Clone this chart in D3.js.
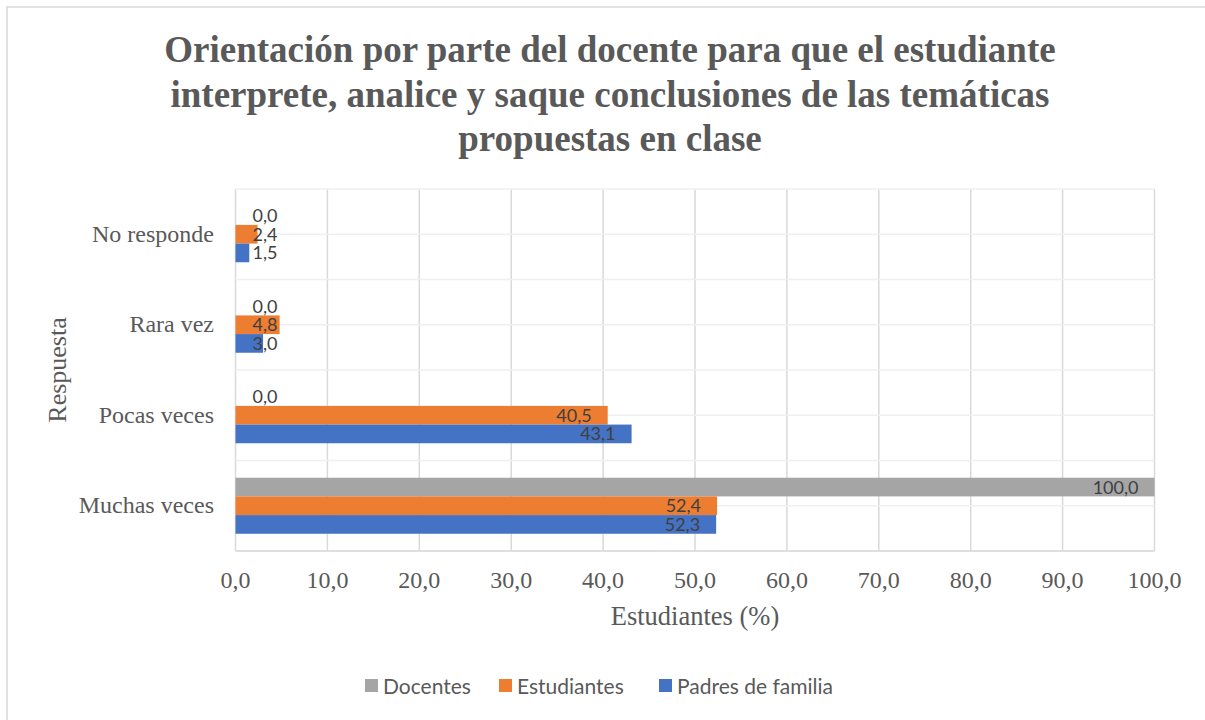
<!DOCTYPE html>
<html>
<head>
<meta charset="UTF-8" />
<title>Orientación por parte del docente</title>
<script src="https://cdn.jsdelivr.net/npm/d3@7/dist/d3.min.js"></script>
<style>
    body { margin: 0; background: #fff; }
    svg { display: block; }
</style>
</head>
<body>
<div id="chart"></div>
<script>
    // data (bottom category first, like Excel)
    var categories = ["Muchas veces", "Pocas veces", "Rara vez", "No responde"];
    var seriesNames = ["Docentes", "Estudiantes", "Padres de familia"];
    var docentes = [100.0, 0.0, 0.0, 0.0];
    var estudiantes = [52.4, 40.5, 4.8, 2.4];
    var padres = [52.3, 43.1, 3.0, 1.5];
    var xTicks = [0, 10, 20, 30, 40, 50, 60, 70, 80, 90, 100];
    var colors = ["#a5a5a5", "#ed7d31", "#4472c4"];
    var titleLines = [
        "Orientación por parte del docente para que el estudiante",
        "interprete, analice y saque conclusiones de las temáticas",
        "propuestas en clase"
    ];

    var W = 1205, H = 720;
    var plot = { left: 235.5, right: 1154.5, top: 189, bottom: 551 };
    var serif = "'Liberation Serif', 'Times New Roman', serif";
    var sans = "Lato, 'Open Sans', sans-serif";

    var svg = d3.select("#chart").append("svg").attr("width", W).attr("height", H);

    // chart border
    svg.append("rect").attr("x", 7).attr("y", 7).attr("width", W + 10).attr("height", H + 10)
        .attr("fill", "#fff").attr("stroke", "#d9d9d9").attr("stroke-width", 1.5);

    // title
    svg.append("text").attr("x", 610).attr("y", 62)
        .attr("text-anchor", "middle")
        .style("font-family", serif).style("font-weight", "bold")
        .style("font-size", "37px").attr("fill", "#595959")
        .selectAll("tspan").data(titleLines).enter().append("tspan")
        .attr("x", 610).attr("dy", function (d, i) { return i === 0 ? 0 : 44.5; })
        .text(function (d) { return d; });

    var x = d3.scaleLinear().domain([0, 100]).range([plot.left, plot.right]);
    var y = d3.scaleBand().domain(categories).range([plot.bottom, plot.top]);
    var inner = d3.scaleBand().domain(seriesNames).range([0, 56]);

    var g = svg.append("g");

    // vertical gridlines
    g.selectAll(".vgrid").data(xTicks).enter().append("line")
        .attr("x1", function (d) { return x(d); }).attr("x2", function (d) { return x(d); })
        .attr("y1", plot.top).attr("y2", plot.bottom)
        .attr("stroke", "#d9d9d9").attr("stroke-width", 1.5);

    // horizontal gridlines at band edges and band centres
    var hLines = [];
    categories.forEach(function (c) {
        hLines.push(y(c));
        hLines.push(y(c) + y.bandwidth() / 2);
    });
    hLines.push(plot.bottom);
    g.selectAll(".hgrid").data(hLines).enter().append("line")
        .attr("x1", plot.left).attr("x2", plot.right)
        .attr("y1", function (d) { return d; }).attr("y2", function (d) { return d; })
        .attr("stroke", "#efefef").attr("stroke-width", 1.5);

    // bottom axis line
    g.append("line").attr("x1", plot.left).attr("x2", plot.right)
        .attr("y1", plot.bottom).attr("y2", plot.bottom)
        .attr("stroke", "#d9d9d9").attr("stroke-width", 1.5);

    // bars
    var allSeries = [docentes, estudiantes, padres];
    var rows = [];
    allSeries.forEach(function (vals, si) {
        vals.forEach(function (v, ci) {
            rows.push({ s: seriesNames[si], si: si, c: categories[ci], v: v });
        });
    });
    var off = (y.bandwidth() - 56) / 2;

    g.selectAll(".bar").data(rows).enter().append("rect")
        .attr("x", x(0))
        .attr("y", function (d) { return y(d.c) + off + inner(d.s); })
        .attr("width", function (d) { return x(d.v) - x(0); })
        .attr("height", inner.bandwidth())
        .attr("fill", function (d) { return colors[d.si]; });

    // data labels, inside end
    var fmt = function (v) { return v.toFixed(1).replace(".", ","); };
    g.selectAll(".lbl").data(rows).enter().append("text")
        .attr("x", function (d) { return Math.max(x(d.v) - 16, x(0) + 42); })
        .attr("y", function (d) { return y(d.c) + off + inner(d.s) + inner.bandwidth() / 2; })
        .attr("dy", "0.36em")
        .attr("text-anchor", "end")
        .style("font-family", sans).style("font-size", "18px")
        .attr("fill", "#404040")
        .text(function (d) { return fmt(d.v); });

    // x tick labels
    g.selectAll(".xt").data(xTicks).enter().append("text")
        .attr("x", function (d) { return x(d); })
        .attr("y", 588)
        .attr("text-anchor", "middle")
        .style("font-family", serif).style("font-size", "24px")
        .attr("fill", "#595959")
        .text(function (d) { return fmt(d); });

    // category labels
    g.selectAll(".yt").data(categories).enter().append("text")
        .attr("x", 214)
        .attr("y", function (d) { return y(d) + y.bandwidth() / 2; })
        .attr("dy", "0.32em")
        .attr("text-anchor", "end")
        .style("font-family", serif).style("font-size", "24px")
        .attr("fill", "#595959")
        .text(function (d) { return d; });

    // axis titles
    svg.append("text").attr("x", 695).attr("y", 625)
        .attr("text-anchor", "middle")
        .style("font-family", serif).style("font-size", "26.5px")
        .attr("fill", "#595959").text("Estudiantes (%)");
    svg.append("text")
        .attr("transform", "translate(66,370) rotate(-90)")
        .attr("text-anchor", "middle")
        .style("font-family", serif).style("font-size", "26px")
        .attr("fill", "#595959").text("Respuesta");

    // legend
    var legendX = [365, 499, 659];
    var leg = svg.selectAll(".leg").data(seriesNames).enter().append("g")
        .attr("transform", function (d, i) { return "translate(" + legendX[i] + ",679)"; });
    leg.append("rect").attr("width", 13).attr("height", 13)
        .attr("fill", function (d, i) { return colors[i]; });
    leg.append("text").attr("x", 18).attr("y", 7).attr("dy", "0.36em")
        .style("font-family", sans).style("font-size", "21px")
        .attr("fill", "#595959").text(function (d) { return d; });
</script>
</body>
</html>
